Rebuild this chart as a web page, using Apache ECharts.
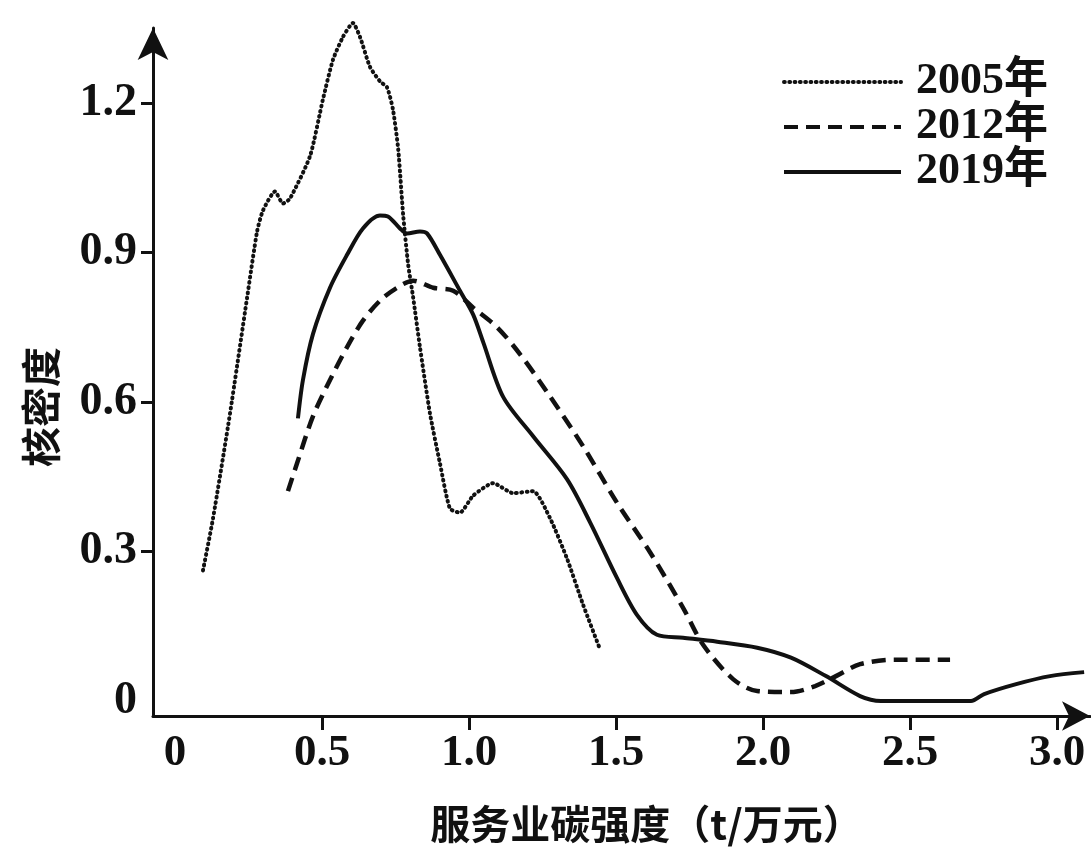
<!DOCTYPE html>
<html>
<head>
<meta charset="utf-8">
<script src="https://cdn.jsdelivr.net/npm/echarts@6/dist/echarts.min.js"></script>
<style>
html,body{margin:0;padding:0;background:#fff;}
#chart{width:1091px;height:849px;}
</style>
</head>
<body>
<div id="chart"></div>
<script>
const seriesNames = ['2005年', '2012年', '2019年'];
const xTickValues = [0, 0.5, 1.0, 1.5, 2.0, 2.5, 3.0];
const xTickLabels = ['0', '0.5', '1.0', '1.5', '2.0', '2.5', '3.0'];
const yTickValues = [0, 0.3, 0.6, 0.9, 1.2];
const yTickLabels = ['0', '0.3', '0.6', '0.9', '1.2'];

const data2005 = [[0.095,0.262],[0.129,0.366],[0.187,0.577],[0.245,0.809],[0.279,0.942],[0.299,0.984],[0.340,1.022],[0.367,0.998],[0.391,1.008],[0.459,1.093],[0.503,1.207],[0.537,1.286],[0.571,1.332],[0.605,1.360],[0.629,1.332],[0.663,1.272],[0.697,1.243],[0.721,1.231],[0.741,1.187],[0.759,1.107],[0.776,0.974],[0.793,0.875],[0.810,0.809],[0.833,0.710],[0.867,0.577],[0.901,0.477],[0.935,0.386],[0.969,0.378],[1.014,0.412],[1.082,0.437],[1.150,0.417],[1.218,0.421],[1.276,0.366],[1.333,0.286],[1.388,0.193],[1.446,0.103]];

const data2012 = [[0.384,0.421],[0.415,0.477],[0.469,0.571],[0.527,0.644],[0.585,0.710],[0.639,0.763],[0.697,0.803],[0.755,0.829],[0.810,0.843],[0.878,0.829],[0.946,0.823],[1.014,0.789],[1.095,0.750],[1.173,0.696],[1.265,0.620],[1.388,0.511],[1.503,0.398],[1.616,0.298],[1.728,0.187],[1.796,0.113],[1.898,0.044],[1.980,0.020],[2.095,0.018],[2.177,0.030],[2.248,0.050],[2.330,0.074],[2.449,0.083],[2.636,0.083]];

const data2019 = [[0.418,0.567],[0.435,0.644],[0.469,0.736],[0.527,0.829],[0.585,0.895],[0.639,0.948],[0.697,0.974],[0.724,0.972],[0.765,0.948],[0.789,0.938],[0.833,0.942],[0.857,0.938],[0.901,0.895],[0.969,0.823],[1.014,0.775],[1.048,0.720],[1.116,0.610],[1.218,0.531],[1.333,0.445],[1.412,0.358],[1.503,0.247],[1.571,0.173],[1.639,0.133],[1.728,0.127],[1.844,0.119],[1.980,0.107],[2.095,0.087],[2.214,0.050],[2.330,0.010],[2.401,0.0],[2.707,0.0],[2.752,0.014],[2.861,0.034],[2.976,0.050],[3.092,0.058]];

const serif = "'Liberation Serif', 'Times New Roman', 'Noto Sans CJK SC', serif";
const cjk = "'Noto Sans CJK SC', sans-serif";
const ink = '#111';

const chart = echarts.init(document.getElementById('chart'));
chart.setOption({
  backgroundColor: '#fff',
  animation: false,
  grid: { left: 153, right: 1, top: 28, bottom: 127, containLabel: false },
  legend: {
    orient: 'vertical',
    left: 777,
    top: 55,
    itemWidth: 117,
    itemHeight: 14,
    itemGap: 1,
    itemStyle: { opacity: 0 },
    lineStyle: { width: 4 },
    textStyle: { fontFamily: serif, fontWeight: 'bold', fontSize: 44, color: ink, padding: [0,0,0,10] },
    data: seriesNames
  },
  xAxis: {
    type: 'value',
    min: -0.075,
    max: 3.112,
    splitLine: { show: false },
    axisLine: { show: true, onZero: false, lineStyle: { color: ink, width: 3 }, symbol: ['none', 'arrow'], symbolSize: [22, 28] },
    axisTick: { show: true, customValues: xTickValues.slice(1), length: 14, lineStyle: { color: ink, width: 3 } },
    axisLabel: {
      customValues: xTickValues,
      margin: 15,
      fontFamily: serif, fontWeight: 'bold', fontSize: 45, color: ink,
      formatter: function (v) { const i = xTickValues.findIndex(t => Math.abs(t - v) < 1e-6); return i >= 0 ? xTickLabels[i] : ''; }
    },
    name: '服务业碳强度（t/万元）',
    nameLocation: 'middle',
    nameGap: 88,
    nameTextStyle: { fontFamily: cjk, fontWeight: 'bold', fontSize: 40, color: ink, padding: [0, 0, 0, 50] }
  },
  yAxis: {
    type: 'value',
    min: -0.03,
    max: 1.35,
    splitLine: { show: false },
    axisLine: { show: true, onZero: false, lineStyle: { color: ink, width: 3 }, symbol: ['none', 'arrow'], symbolSize: [23, 32] },
    axisTick: { show: true, customValues: yTickValues.slice(1), length: 12, lineStyle: { color: ink, width: 3 } },
    axisLabel: {
      customValues: yTickValues,
      margin: 16,
      fontFamily: serif, fontWeight: 'bold', fontSize: 46, color: ink,
      formatter: function (v) { const i = yTickValues.findIndex(t => Math.abs(t - v) < 1e-6); return i >= 0 ? yTickLabels[i] : ''; }
    },
    name: '核密度',
    nameLocation: 'middle',
    nameGap: 92,
    nameTextStyle: { fontFamily: cjk, fontWeight: 'bold', fontSize: 40, color: ink, padding: [0, 70, 0, 0] }
  },
  series: [
    {
      name: seriesNames[0], type: 'line', data: data2005, smooth: 0.2, showSymbol: false, symbol: 'none', clip: false,
      lineStyle: { color: ink, width: 4, type: [0.8, 4.5], cap: 'round' }, itemStyle: { color: ink }
    },
    {
      name: seriesNames[1], type: 'line', data: data2012, smooth: 0.3, showSymbol: false, symbol: 'none', clip: false,
      lineStyle: { color: ink, width: 4.5, type: [14, 8] }, itemStyle: { color: ink }
    },
    {
      name: seriesNames[2], type: 'line', data: data2019, smooth: 0.3, showSymbol: false, symbol: 'none', clip: false,
      lineStyle: { color: ink, width: 4 }, itemStyle: { color: ink }
    }
  ]
});
</script>
</body>
</html>
